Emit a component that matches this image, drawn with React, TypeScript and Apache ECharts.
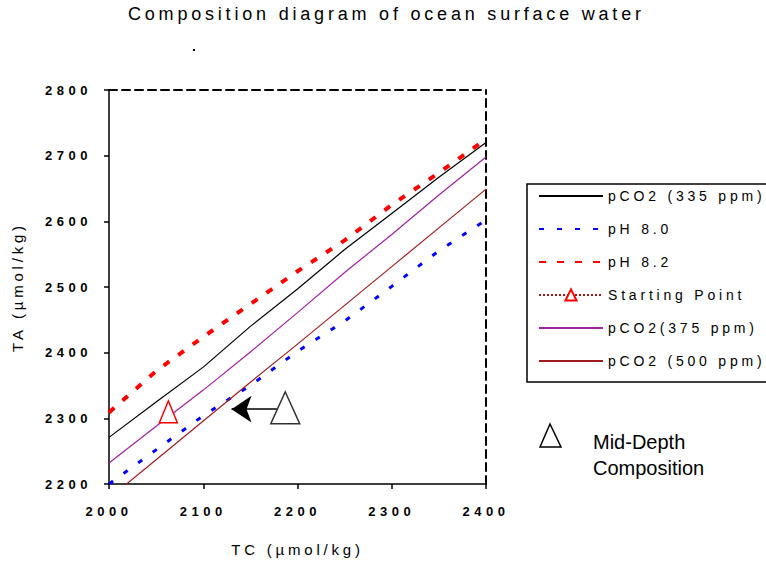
import React, { useEffect, useRef } from 'react';
import * as echarts from 'echarts';

// ---- data ----
const TC = [2000, 2050, 2100, 2150, 2200, 2250, 2300, 2350, 2400];
const PCO2_335 = [2271, 2325, 2378, 2440, 2497, 2557, 2612, 2667, 2720];
const PH_80 = [2200, 2252, 2304, 2350, 2402, 2448, 2501, 2555, 2602];
const PH_82 = [2309, 2372, 2424, 2474, 2524, 2571, 2625, 2674, 2725];
const PCO2_375 = [2232, 2288, 2343, 2401, 2461, 2522, 2580, 2640, 2698];
const PCO2_500 = [2178, 2237, 2296, 2355, 2413, 2472, 2531, 2590, 2649];
const START_POINT = [2063, 2310];
const MID_DEPTH = [2187, 2316];
const ARROW_FROM = [2178, 2314];
const ARROW_TO = [2130, 2314];
const X_RANGE = [2000, 2400];
const Y_RANGE = [2200, 2800];
const TICK_STEP = 100;
const LEGEND_NAMES = ['pCO2 (335 ppm)', 'pH 8.0', 'pH 8.2', 'Starting Point', 'pCO2(375 ppm)', 'pCO2 (500 ppm)'];
const TITLE = 'Composition diagram of ocean surface water';
const X_NAME = 'TC (µmol/kg)';
const Y_NAME = 'TA (µmol/kg)';
const NOTE_LINES = ['Mid-Depth', 'Composition'];

const FONT = '"Liberation Sans", Arial, sans-serif';

const pairs = (ys: number[]) => TC.map((x, i) => [x, ys[i]]);

export default function App() {
  const ref = useRef<HTMLDivElement>(null);

  useEffect(() => {
    const el = ref.current!;
    const chart = echarts.init(el, undefined, { renderer: 'svg' });
    const lineSeries = (name: string, ys: number[], lineStyle: any) => ({
      name,
      type: 'line',
      data: pairs(ys),
      symbol: 'none',
      lineStyle,
      itemStyle: { color: lineStyle.color },
      silent: true,
    });
    const hiddenIcon = { color: 'rgba(0,0,0,0)', borderColor: 'rgba(0,0,0,0)', borderWidth: 0 };
    const option: any = {
      animation: false,
      backgroundColor: '#ffffff',
      title: {
        text: TITLE,
        left: 128,
        top: 5,
        padding: 0,
        textStyle: { fontFamily: FONT, fontSize: 18, fontWeight: 'normal', color: '#000' },
      },
      grid: { left: 109, right: 280, top: 90, bottom: 77 },
      legend: {
        orient: 'vertical',
        left: 527,
        top: 184,
        data: LEGEND_NAMES.map((name) =>
          name === 'Starting Point' ? { name } : { name, itemStyle: hiddenIcon }
        ),
        itemWidth: 64,
        itemHeight: 14,
        itemGap: 19,
        padding: [5, 70, 14, 11],
        borderColor: '#000',
        borderWidth: 1.5,
        selectedMode: false,
        textStyle: { fontFamily: FONT, fontSize: 14, color: '#000', lineHeight: 14 },
      },
      xAxis: [
        {
          type: 'value',
          min: X_RANGE[0],
          max: X_RANGE[1],
          interval: TICK_STEP,
          name: X_NAME,
          nameLocation: 'middle',
          nameGap: 58,
          nameTextStyle: { fontFamily: FONT, fontSize: 15, color: '#000' },
          axisLine: { show: true, onZero: false, lineStyle: { color: '#000', width: 1.5 } },
          axisTick: { show: true, length: 5, lineStyle: { color: '#000', width: 1.5 } },
          axisLabel: {
            margin: 21,
            fontFamily: FONT,
            fontSize: 13,
            fontWeight: 'bold',
            color: '#000',
            formatter: (v: number) => String(v),
          },
          splitLine: { show: false },
        },
        {
          type: 'value',
          position: 'top',
          min: X_RANGE[0],
          max: X_RANGE[1],
          interval: TICK_STEP,
          axisLine: { show: true, onZero: false, lineStyle: { color: '#000', width: 2, type: [8, 5] } },
          axisTick: { show: false },
          axisLabel: { show: false },
          splitLine: { show: false },
        },
      ],
      yAxis: [
        {
          type: 'value',
          min: Y_RANGE[0],
          max: Y_RANGE[1],
          interval: TICK_STEP,
          name: Y_NAME,
          nameLocation: 'middle',
          nameGap: 84,
          nameRotate: 90,
          nameTextStyle: { fontFamily: FONT, fontSize: 15, color: '#000' },
          axisLine: { show: true, onZero: false, lineStyle: { color: '#000', width: 1.5 } },
          axisTick: { show: true, length: 5, lineStyle: { color: '#000', width: 1.5 } },
          axisLabel: {
            margin: 17,
            fontFamily: FONT,
            fontSize: 13,
            fontWeight: 'bold',
            color: '#000',
            formatter: (v: number) => String(v),
          },
          splitLine: { show: false },
        },
        {
          type: 'value',
          position: 'right',
          min: Y_RANGE[0],
          max: Y_RANGE[1],
          interval: TICK_STEP,
          axisLine: { show: true, onZero: false, lineStyle: { color: '#000', width: 2, type: [8, 5] } },
          axisTick: { show: false },
          axisLabel: { show: false },
          splitLine: { show: false },
        },
      ],
      series: [
        lineSeries(LEGEND_NAMES[0], PCO2_335, { color: '#000000', width: 1.2 }),
        lineSeries(LEGEND_NAMES[1], PH_80, { color: '#0000ff', width: 3, type: [5, 13] }),
        lineSeries(LEGEND_NAMES[2], PH_82, { color: '#ff0000', width: 4, type: [7, 11] }),
        {
          name: LEGEND_NAMES[3],
          type: 'line',
          data: [START_POINT],
          symbol: 'triangle',
          symbolSize: [18, 22],
          itemStyle: { color: '#ffffff', borderColor: '#ff0000', borderWidth: 1.5 },
          lineStyle: { color: '#a01818', width: 1.5, type: 'dotted' },
          z: 6,
          silent: true,
        },
        lineSeries(LEGEND_NAMES[4], PCO2_375, { color: '#a020a0', width: 1.2 }),
        lineSeries(LEGEND_NAMES[5], PCO2_500, { color: '#a01c1c', width: 1.2 }),
        {
          name: 'Mid-Depth Composition',
          type: 'scatter',
          data: [MID_DEPTH],
          symbol: 'triangle',
          symbolSize: [29, 32],
          itemStyle: { color: '#ffffff', borderColor: '#000000', borderWidth: 1.5 },
          z: 6,
          silent: true,
          markLine: {
            silent: true,
            symbol: ['none', 'arrow'],
            symbolSize: 20,
            lineStyle: { color: '#000', width: 1.5, type: 'solid' },
            itemStyle: { color: '#000' },
            label: { show: false },
            data: [[{ coord: ARROW_FROM }, { coord: ARROW_TO }]],
          },
        },
      ],
      graphic: [
        {
          type: 'polygon',
          shape: { points: [[550, 424], [540, 447], [561, 447]] },
          style: { fill: '#ffffff', stroke: '#000', lineWidth: 1.5 },
        },
        {
          type: 'text',
          x: 593,
          y: 442,
          style: { text: NOTE_LINES[0], fontSize: 20, fontFamily: FONT, fill: '#000', verticalAlign: 'middle' },
        },
        {
          type: 'text',
          x: 593,
          y: 468,
          style: { text: NOTE_LINES[1], fontSize: 20, fontFamily: FONT, fill: '#000', verticalAlign: 'middle' },
        },
        {
          type: 'rect',
          shape: { x: 193, y: 49, width: 2, height: 2 },
          style: { fill: '#000' },
        },
      ],
    };
    chart.setOption(option);

    const applySpacing = () => {
      el.querySelectorAll('text').forEach((t) => {
        const txt = (t.textContent || '').trim();
        if (NOTE_LINES.includes(txt)) return;
        const fs = parseFloat(getComputedStyle(t).fontSize);
        (t as SVGTextElement).style.letterSpacing = fs <= 13 ? '4.5px' : '3.8px';
      });
    };
    applySpacing();
    chart.on('finished', applySpacing);
    const raf = requestAnimationFrame(applySpacing);
    return () => {
      cancelAnimationFrame(raf);
      chart.dispose();
    };
  }, []);

  return (
    <div
      ref={ref}
      style={{ position: 'absolute', left: 0, top: 0, width: 766, height: 562, background: '#fff' }}
    />
  );
}
